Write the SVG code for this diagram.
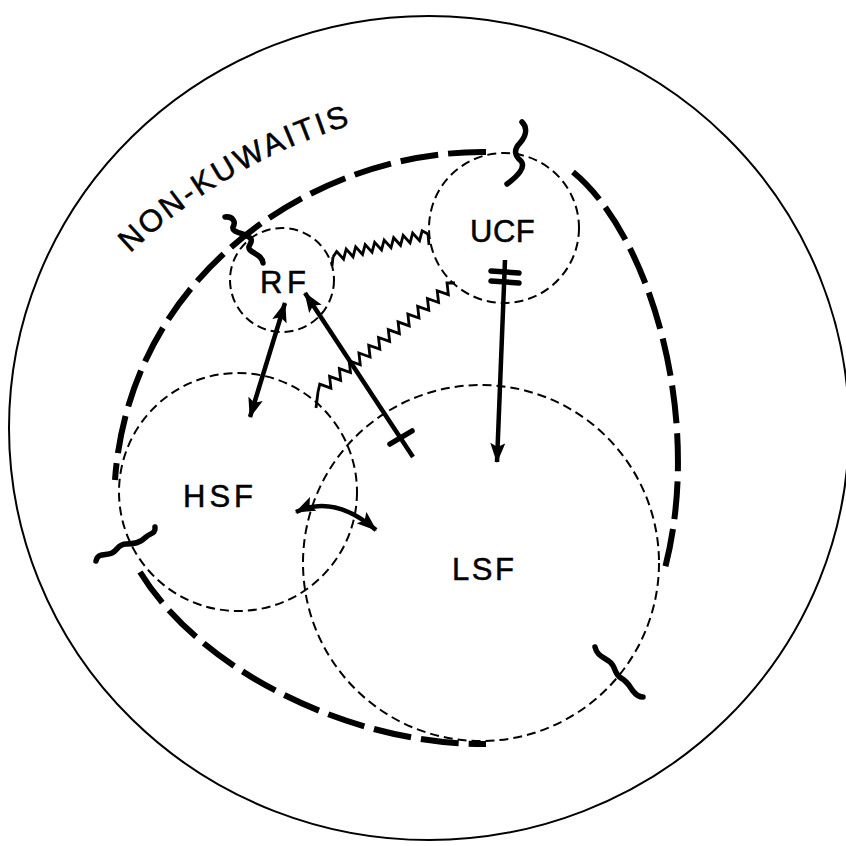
<svg xmlns="http://www.w3.org/2000/svg" width="846" height="846" viewBox="0 0 846 846">
<style>
.thin{fill:none;stroke:#000;stroke-width:2;stroke-dasharray:9 5}
.thick{fill:none;stroke:#000;stroke-width:6;stroke-dasharray:38 10}
.sq{fill:none;stroke:#000;stroke-width:5.5;stroke-linecap:round;stroke-linejoin:round}
.zz{fill:none;stroke:#000;stroke-width:2.8;stroke-linejoin:miter}
.ar{fill:none;stroke:#000;stroke-width:4.5}
.bar{fill:none;stroke:#000;stroke-width:5.5;stroke-linecap:round}
.lbl{font-family:"Liberation Sans",Arial,Helvetica,sans-serif;font-size:31px;fill:#000;stroke:#000;stroke-width:0.5}
</style>
<defs>
<marker id="ah" viewBox="0 0 20 15" refX="19" refY="7.5" markerWidth="20" markerHeight="15" orient="auto-start-reverse" markerUnits="userSpaceOnUse">
<path d="M0,0 L20,7.5 L0,15 L4,7.5 z" fill="#000"/>
</marker>
<path id="arc" d="M128,255.5 A547,547 0 0 1 430,107.6"/>
</defs>
<rect width="846" height="846" fill="#fff"/>
<ellipse cx="429" cy="428" rx="420" ry="412" fill="none" stroke="#000" stroke-width="2"/>
<g id="boundary">
<path class="thick" d="M486,152 C320,150 130,270 115,480"/>
<path class="thick" d="M573,172 C650,235 705,420 664,572"/>
<path class="thick" d="M140,572 C200,670 350,745 486,744"/>
</g>
<g id="RF"><circle class="thin" cx="282" cy="280" r="52"/><text class="lbl" x="260" y="293" letter-spacing="4.5">RF</text></g>
<g id="UCF"><circle class="thin" cx="504" cy="228" r="75"/><text class="lbl" x="470" y="241.5" font-size="32" letter-spacing="0.5">UCF</text></g>
<g id="HSF"><circle class="thin" cx="238" cy="492" r="119"/><text class="lbl" x="183" y="507" letter-spacing="4">HSF</text></g>
<g id="LSF"><circle class="thin" cx="481" cy="563" r="178"/><text class="lbl" x="452" y="580" letter-spacing="2.5">LSF</text></g>
<g id="label"><text class="lbl" font-size="29" letter-spacing="2.6"><textPath href="#arc" startOffset="3">NON-KUWAITIS</textPath></text></g>
<g id="squiggles">
<path class="sq" d="M522,122 C528,128 526,136 520,143 C513,150 515,156 521,161 C526,167 518,176 507,184"/>
<path class="sq" d="M225,217 C233,216 236,222 233,227 C231,233 247,233 251,239 C253,244 246,246 250,250 C254,254 262,255 263,263"/>
<path class="sq" d="M96,561 C98,552 106,556 112,553 C118,550 118,544 126,544 C134,544 140,543 146,537 C150,533 156,534 155,527"/>
<path class="sq" d="M595,647 C597,656 604,657 610,662 C616,667 614,674 621,678 C628,682 630,687 633,691 C636,695 640,697 643,697"/>
</g>
<g id="connectors">
<polyline class="zz" transform="translate(333,257) rotate(-13.6)" points="0,0 4.88,-4.5 9.77,4.5 14.65,-4.5 19.54,4.5 24.42,-4.5 29.31,4.5 34.19,-4.5 39.08,4.5 43.96,-4.5 48.85,4.5 53.73,-4.5 58.62,4.5 63.5,-4.5 68.39,4.5 73.27,-4.5 78.16,4.5 83.04,-4.5 87.93,4.5 92.81,-4.5 97.7,0"/>
<path class="zz" d="M332,266 L333,257 M428,234 L429,245"/>
<polyline class="zz" transform="translate(318,392) rotate(-38.5)" points="0,0 6.25,-5 12.5,5 18.76,-5 25.02,5 31.27,-5 37.52,5 43.78,-5 50.03,5 56.29,-5 62.54,5 68.79,-5 75.05,5 81.3,-5 87.55,5 93.81,-5 100.06,5 106.31,-5 112.57,5 118.82,-5 125.08,5 131.33,-5 137.58,5 143.84,-5 150.09,5 156.35,-5 162.6,5 168.85,-5 175.1,0"/>
<path class="zz" d="M318,392 L316,408"/>
<line class="ar" x1="250" y1="417" x2="285" y2="303" marker-start="url(#ah)" marker-end="url(#ah)"/>
<line class="ar" x1="413" y1="457" x2="305" y2="293" marker-end="url(#ah)"/>
<line class="bar" x1="390" y1="444" x2="412" y2="431"/>
<line class="ar" x1="505" y1="260" x2="497" y2="462" marker-end="url(#ah)"/>
<line class="bar" x1="491" y1="271" x2="519" y2="273"/>
<line class="bar" x1="491" y1="281" x2="519" y2="283"/>
<path class="ar" d="M296,512 Q334,494 376,530" marker-start="url(#ah)" marker-end="url(#ah)"/>
</g>
</svg>
